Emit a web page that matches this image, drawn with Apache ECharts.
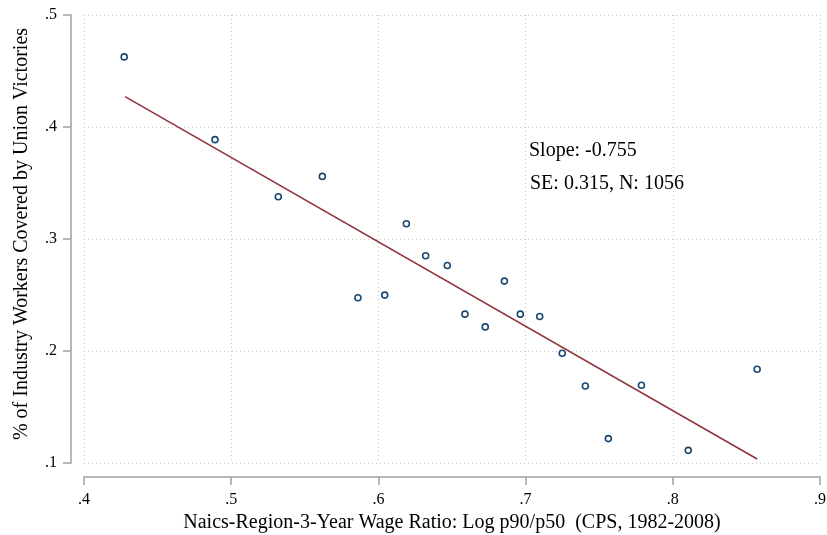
<!DOCTYPE html>
<html>
<head>
<meta charset="utf-8">
<script src="https://cdn.jsdelivr.net/npm/echarts@6/dist/echarts.min.js"></script>
<style>
  html, body { margin: 0; padding: 0; background: #fff; }
  #chart { width: 827px; height: 535px; }
</style>
</head>
<body>
<div id="chart"></div>
<script>
// binned scatter: log p90/p50 wage ratio vs share covered by union victories
var wageRatio = [0.4273, 0.4890, 0.5320, 0.5619, 0.5861, 0.6043, 0.6190, 0.6321, 0.6468, 0.6588,
                 0.6726, 0.6856, 0.6964, 0.7096, 0.7249, 0.7406, 0.7562, 0.7787, 0.8105, 0.8573];
var unionShare = [0.4626, 0.3887, 0.3377, 0.3559, 0.2475, 0.2499, 0.3136, 0.2850, 0.2764, 0.2329,
                  0.2215, 0.2624, 0.2329, 0.2308, 0.1980, 0.1688, 0.1218, 0.1694, 0.1113, 0.1837];

// fitted line end points
var fitX = [0.4279, 0.8573];
var fitY = [0.4271, 0.1036];

var xTicks = [0.4, 0.5, 0.6, 0.7, 0.8, 0.9];
var yTicks = [0.1, 0.2, 0.3, 0.4, 0.5];

var notes = ['Slope: -0.755', 'SE: 0.315, N: 1056'];

var font = '"Liberation Serif", "Times New Roman", serif';

function tickLabel(v) {
    // Stata style: .4 instead of 0.4
    return String(Math.round(v * 10) / 10).replace(/^0/, '');
}

var chart = echarts.init(document.getElementById('chart'));

var points = wageRatio.map(function (x, i) { return [x, unionShare[i]]; });
var fit = fitX.map(function (x, i) { return [x, fitY[i]]; });

var option = {
    animation: false,
    backgroundColor: '#fff',
    grid: { left: 84, right: 7, top: 15, bottom: 72, containLabel: false, outerBoundsMode: 'none' },
    xAxis: {
        type: 'value',
        min: xTicks[0],
        max: xTicks[xTicks.length - 1],
        interval: 0.1,
        offset: 14,
        name: 'Naics-Region-3-Year Wage Ratio: Log p90/p50  (CPS, 1982-2008)',
        nameLocation: 'middle',
        nameGap: 35,
        nameTextStyle: { fontFamily: font, fontSize: 20, color: '#000' },
        axisLine: { lineStyle: { color: '#a0a0a0', width: 1.5 } },
        axisTick: { length: 8, lineStyle: { color: '#a0a0a0', width: 1.5 } },
        axisLabel: { fontFamily: font, fontSize: 16, color: '#000', margin: 15, formatter: tickLabel },
        splitLine: { show: true, lineStyle: { color: '#c8c8c8', type: [1, 3], width: 1 } }
    },
    yAxis: {
        type: 'value',
        min: yTicks[0],
        max: yTicks[yTicks.length - 1],
        interval: 0.1,
        offset: 13,
        name: '% of Industry Workers Covered by Union Victories',
        nameLocation: 'middle',
        nameGap: 39,
        nameTextStyle: { fontFamily: font, fontSize: 20, color: '#000', padding: [0, 0, 0, 10] },
        axisLine: { show: true, lineStyle: { color: '#a0a0a0', width: 1.5 } },
        axisTick: { show: true, length: 8, lineStyle: { color: '#a0a0a0', width: 1.5 } },
        axisLabel: { fontFamily: font, fontSize: 16, color: '#000', margin: 14, formatter: tickLabel },
        splitLine: { show: true, lineStyle: { color: '#c8c8c8', type: [1, 3], width: 1 } }
    },
    series: [{
        type: 'scatter',
        data: points,
        symbol: 'circle',
        symbolSize: 6,
        itemStyle: { color: '#fff', borderColor: '#1a476f', borderWidth: 1.6, opacity: 1 }
    }, {
        type: 'line',
        data: fit,
        showSymbol: false,
        lineStyle: { color: '#90353b', width: 1.6 },
        z: 1
    }],
    graphic: [{
        type: 'text',
        left: 529,
        top: 141,
        style: { text: notes[0], fontFamily: font, fontSize: 20, fill: '#000' }
    }, {
        type: 'text',
        left: 530,
        top: 174,
        style: { text: notes[1], fontFamily: font, fontSize: 20, fill: '#000' }
    }]
};

chart.setOption(option);
</script>
</body>
</html>
